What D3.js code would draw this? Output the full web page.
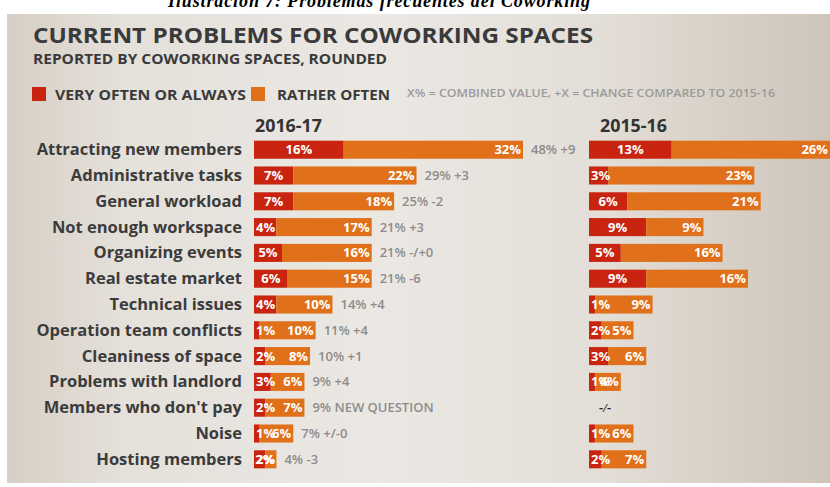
<!DOCTYPE html>
<html>
<head>
<meta charset="utf-8">
<script src="https://cdn.jsdelivr.net/npm/d3@7"></script>
<style>
  html, body { margin: 0; padding: 0; background: #fff; }
  svg { display: block; }
</style>
</head>
<body>
<div id="chart"></div>
<script>
// Data
const categories = [
    "Attracting new members", "Administrative tasks", "General workload",
    "Not enough workspace", "Organizing events", "Real estate market",
    "Technical issues", "Operation team conflicts", "Cleaniness of space",
    "Problems with landlord", "Members who don't pay", "Noise", "Hosting members"
];
const veryOften1617 = [16, 7, 7, 4, 5, 6, 4, 1, 2, 3, 2, 1, 2];
const ratherOften1617 = [32, 22, 18, 17, 16, 15, 10, 10, 8, 6, 7, 6, 2];
const change1617 = ["+9", "+3", "-2", "+3", "-/+0", "-6", "+4", "+4", "+1", "+4", "NEW QUESTION", "+/-0", "-3"];
const veryOften1516 = [13, 3, 6, 9, 5, 9, 1, 2, 3, 1, null, 1, 2];
const ratherOften1516 = [26, 23, 21, 9, 16, 16, 9, 5, 6, 4, null, 6, 7];

// Configuration
const width = 830;
const height = 487;
const RED = "#c8240f";
const ORANGE = "#e0701a";
const FONT = "'Open Sans', sans-serif";

const svg = d3.select("#chart")
    .append("svg")
    .attr("width", width)
    .attr("height", height)
    .attr("viewBox", [0, 0, width, height]);

// Background panel with soft gradient
const grad = svg.append("defs").append("linearGradient")
    .attr("id", "bg").attr("x1", "0%").attr("x2", "100%");
[["0%", "#d7cfc5"], ["14%", "#e4e0da"], ["45%", "#ebe8e4"], ["72%", "#e3ded7"], ["100%", "#cec5ba"]]
    .forEach(([o, c]) => grad.append("stop").attr("offset", o).attr("stop-color", c));

svg.append("rect")
    .attr("x", 7).attr("y", 14)
    .attr("width", width - 7).attr("height", 469)
    .attr("fill", "url(#bg)");

// Caption cut at the top of the picture
svg.append("text")
    .attr("x", 168).attr("y", 7)
    .attr("textLength", 422)
    .style("font", "bold italic 18px 'Liberation Serif', serif")
    .style("fill", "#000")
    .text("Ilustración 7: Problemas frecuentes del Coworking");

// Stretched header text (the original uses a wide geometric font)
function wideText(x, yPos, len, font, color, str) {
    return svg.append("text")
        .attr("x", x).attr("y", yPos)
        .attr("textLength", len)
        .attr("lengthAdjust", "spacingAndGlyphs")
        .style("font", font)
        .style("fill", color)
        .text(str);
}

wideText(33, 43, 560, `700 21px ${FONT}`, "#3a3a3a", "CURRENT PROBLEMS FOR COWORKING SPACES");
wideText(33, 64, 354, `700 14px ${FONT}`, "#3a3a3a", "REPORTED BY COWORKING SPACES, ROUNDED");

// Legend
const legend = [
    { color: RED, label: "VERY OFTEN OR ALWAYS", x: 32, tx: 55, tw: 191 },
    { color: ORANGE, label: "RATHER OFTEN", x: 251, tx: 277, tw: 113 }
];
legend.forEach(d => {
    svg.append("rect")
        .attr("x", d.x).attr("y", 87)
        .attr("width", 14).attr("height", 14)
        .attr("fill", d.color);
    wideText(d.tx, 100, d.tw, `700 14.5px ${FONT}`, "#3a3a3a", d.label);
});
wideText(407, 97, 368, `600 10px ${FONT}`, "#9a9a9a", "X% = COMBINED VALUE, +X = CHANGE COMPARED TO 2015-16");

// Scales
const y = d3.scaleBand()
    .domain(categories)
    .range([136.8, 472.2])
    .paddingInner(0.3)
    .paddingOuter(0.15);

const x1617 = d3.scaleLinear().domain([0, 48]).range([254, 523]);
const x1516 = d3.scaleLinear().domain([0, 39]).range([589, 837]);

// Year headings
wideText(x1617(0) + 1, 132, 67, `700 17px ${FONT}`, "#333", "2016-17");
wideText(x1516(0) + 11, 132, 67, `700 17px ${FONT}`, "#333", "2015-16");

// Category labels
svg.append("g")
    .selectAll("text")
    .data(categories)
    .join("text")
    .attr("x", 242)
    .attr("y", d => y(d) + y.bandwidth() / 2 + 5.5)
    .attr("text-anchor", "end")
    .style("font", `700 16.5px ${FONT}`)
    .style("fill", "#3b3b3b")
    .text(d => d);

const labelStyle = `700 13px ${FONT}`;

// Draw a stacked bar series for one period
function drawPeriod(xScale, very, rather) {
    const rows = categories.map((c, i) => ({ cat: c, very: very[i], rather: rather[i] }))
        .filter(d => d.very !== null);
    const g = svg.append("g");

    const bars = g.selectAll("g.row")
        .data(rows)
        .join("g")
        .attr("class", "row");

    bars.append("rect")
        .attr("x", xScale(0))
        .attr("y", d => y(d.cat))
        .attr("width", d => xScale(d.very) - xScale(0))
        .attr("height", y.bandwidth())
        .attr("fill", RED);

    bars.append("rect")
        .attr("x", d => xScale(d.very))
        .attr("y", d => y(d.cat))
        .attr("width", d => xScale(d.very + d.rather) - xScale(d.very))
        .attr("height", y.bandwidth())
        .attr("fill", ORANGE);

    // Very often label: centered in red segment, kept inside the bar start
    bars.append("text")
        .attr("y", d => y(d.cat) + y.bandwidth() / 2 + 4.5)
        .attr("text-anchor", "middle")
        .style("font", labelStyle)
        .style("fill", "#fff")
        .text(d => d.very + "%")
        .attr("x", function (d) {
            const w = this.getComputedTextLength();
            const mid = (xScale(0) + xScale(d.very)) / 2;
            return Math.max(mid, xScale(0) + 2 + w / 2);
        });

    // Rather often label: right aligned at bar end
    bars.append("text")
        .attr("x", d => Math.min(xScale(d.very + d.rather), width) - 2)
        .attr("y", d => y(d.cat) + y.bandwidth() / 2 + 4.5)
        .attr("text-anchor", "end")
        .style("font", labelStyle)
        .style("fill", "#fff")
        .text(d => d.rather + "%");

    return rows;
}

drawPeriod(x1617, veryOften1617, ratherOften1617);
drawPeriod(x1516, veryOften1516, ratherOften1516);

// Combined value and change next to 2016-17 bars
svg.append("g")
    .selectAll("text")
    .data(categories)
    .join("text")
    .attr("x", (d, i) => x1617(veryOften1617[i] + ratherOften1617[i]) + 8)
    .attr("y", d => y(d) + y.bandwidth() / 2 + 4.5)
    .style("font", `600 13px ${FONT}`)
    .style("fill", "#8c8c8c")
    .text((d, i) => `${veryOften1617[i] + ratherOften1617[i]}% ${change1617[i]}`);

// No value for the new question in 2015-16
categories.forEach((c, i) => {
    if (veryOften1516[i] === null) {
        svg.append("text")
            .attr("x", x1516(0) + 10)
            .attr("y", y(c) + y.bandwidth() / 2 + 4.5)
            .style("font", `italic 700 13px 'Liberation Serif', serif`)
            .style("fill", "#222")
            .text("-/-");
    }
});
</script>
</body>
</html>
